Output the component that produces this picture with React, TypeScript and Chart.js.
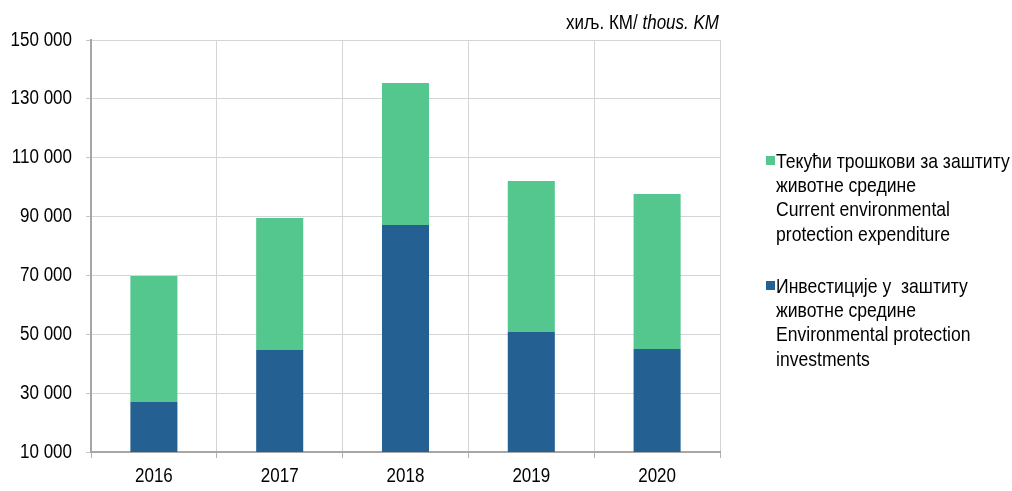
import React, { useEffect, useRef } from "react";
import { Chart, registerables } from "chart.js";

Chart.register(...registerables);

const years = ["2016", "2017", "2018", "2019", "2020"];
const investments = [27000, 44700, 87100, 50800, 45000];
const currentExpenditure = [42800, 44800, 48300, 51300, 52700];

const yMin = 10000;
const yMax = 150000;
const yStep = 20000;

const unitRegular = "хиљ. КМ/";
const unitItalic = " thous. KM";

const legendCurrent = [
  "Текући трошкови за заштиту",
  "животне средине",
  "Current environmental",
  "protection expenditure",
];
const legendInvest = [
  "Инвестиције у  заштиту",
  "животне средине",
  "Environmental protection",
  "investments",
];

const GREEN = "#53C78E";
const BLUE = "#256093";
const FONT = "'Liberation Sans', Arial, sans-serif";
// horizontal text condensing to imitate a narrow typeface
const SX = 0.85;

const fmt = (v: number) => {
  const s = Math.round(v).toString();
  return s.replace(/\B(?=(\d{3})+(?!\d))/g, " ");
};

const overlayPlugin = {
  id: "overlay",
  afterDraw(chart: any) {
    const ctx = chart.ctx as CanvasRenderingContext2D;
    const area = chart.chartArea;
    ctx.save();
    // unit label
    ctx.fillStyle = "#000";
    ctx.textBaseline = "alphabetic";
    ctx.textAlign = "left";
    ctx.font = `italic 20px ${FONT}`;
    const wItal = ctx.measureText(unitItalic).width * SX;
    ctx.font = `normal 20px ${FONT}`;
    const wReg = ctx.measureText(unitRegular).width * SX;
    const right = area.right - 1;
    const base = 29;
    ctx.fillText(unitRegular, right - wItal - wReg, base);
    ctx.font = `italic 20px ${FONT}`;
    ctx.fillText(unitItalic, right - wItal, base);

    // legend
    const items = [
      { color: GREEN, lines: legendCurrent, y0: 162 },
      { color: BLUE, lines: legendInvest, y0: 287 },
    ];
    ctx.font = `normal 20.7px ${FONT}`;
    ctx.textBaseline = "middle";
    for (const it of items) {
      ctx.fillStyle = it.color;
      ctx.fillRect(766, it.y0 - 6, 9, 9);
      ctx.fillStyle = "#000";
      it.lines.forEach((ln, i) => {
        ctx.fillText(ln, 776, it.y0 + i * 24.3);
      });
    }
    ctx.restore();
  },
};

export default function App() {
  const ref = useRef<HTMLCanvasElement>(null);
  useEffect(() => {
    if (!ref.current) return;
    const c2d = ref.current.getContext("2d") as any;
    const origFill = CanvasRenderingContext2D.prototype.fillText;
    c2d.fillText = function (text: string, x: number, y: number, maxWidth?: number) {
      this.save();
      this.translate(x, y);
      this.scale(SX, 1);
      if (maxWidth !== undefined) origFill.call(this, text, 0, 0, maxWidth / SX);
      else origFill.call(this, text, 0, 0);
      this.restore();
    };
    const chart = new Chart(ref.current, {
      type: "bar",
      data: {
        labels: years,
        datasets: [
          {
            label: "Инвестиције у заштиту животне средине / Environmental protection investments",
            data: investments,
            backgroundColor: BLUE,
            borderWidth: 0,
            barPercentage: 0.374,
            categoryPercentage: 1,
          },
          {
            label: "Текући трошкови за заштиту животне средине / Current environmental protection expenditure",
            data: currentExpenditure,
            backgroundColor: GREEN,
            borderWidth: 0,
            barPercentage: 0.374,
            categoryPercentage: 1,
          },
        ],
      },
      options: {
        responsive: false,
        animation: false,
        layout: { padding: { left: 0, top: 40, right: 292, bottom: 0 } },
        plugins: {
          legend: { display: false },
          tooltip: { enabled: false },
        },
        scales: {
          x: {
            stacked: true,
            grid: {
              display: true,
              offset: true,
              color: "#d4d4d4",
              tickColor: "#b0b0b0",
              tickLength: 6,
              lineWidth: 1,
            },
            border: { display: true, color: "#a6a6a6", width: 2 },
            ticks: {
              color: "#000",
              font: { family: FONT, size: 20 },
              padding: 6,
            },
            afterFit(scale: any) {
              scale.height = 39;
            },
          },
          y: {
            stacked: true,
            min: yMin,
            max: yMax,
            grid: {
              color: "#d4d4d4",
              tickColor: "#c8c8c8",
              tickLength: 5,
              lineWidth: 1,
            },
            border: { display: true, color: "#a6a6a6", width: 2 },
            ticks: {
              stepSize: yStep,
              color: "#000",
              font: { family: FONT, size: 20 },
              padding: 14,
              callback: (v: any) => fmt(Number(v)),
            },
            afterFit(scale: any) {
              scale.width = 91;
            },
          },
        },
      },
      plugins: [overlayPlugin],
    });
    return () => {
      chart.destroy();
      delete c2d.fillText;
    };
  }, []);
  return (
    <div style={{ position: "absolute", left: 0, top: 0, width: 1012, height: 491, background: "#fff" }}>
      <canvas ref={ref} width={1012} height={491} style={{ display: "block" }} />
    </div>
  );
}
